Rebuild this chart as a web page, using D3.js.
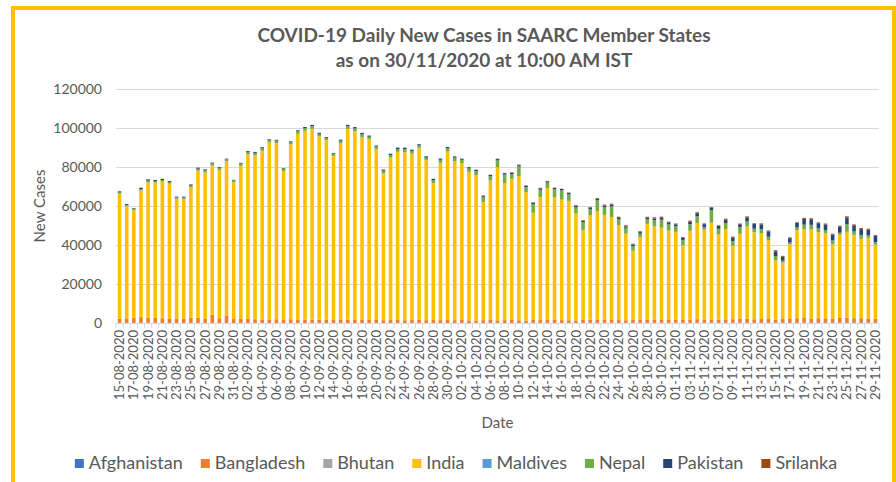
<!DOCTYPE html>
<html>
<head>
<meta charset="utf-8">
<script src="https://cdn.jsdelivr.net/npm/d3@7"></script>
<style>
  body { margin: 0; background: #fff; }
  svg { display: block; font-family: Lato, "Open Sans", sans-serif; }
</style>
</head>
<body>
<svg width="896" height="482"></svg>
<script>
var countries = ["Afghanistan", "Bangladesh", "Bhutan", "India", "Maldives", "Nepal", "Pakistan", "Srilanka"]
var colors = ["#4472C4", "#ED7D31", "#A5A5A5", "#FFC000", "#5B9BD5", "#70AD47", "#264478", "#9E480E"]

// one category per day, 15-08-2020 .. 29-11-2020
var dates = d3.timeDay.range(new Date(2020, 7, 15), new Date(2020, 10, 30)).map(d3.timeFormat("%d-%m-%Y"))
var yTicks = [0, 20000, 40000, 60000, 80000, 100000, 120000]

var afghanistan = [60, 40, 30, 80, 50, 70, 40, 30, 20, 35, 40, 60, 50, 30, 20, 40, 20,
  30, 20, 40, 25, 30, 20, 15, 35, 40, 20, 30, 25, 20, 40, 30, 25, 20, 30, 20, 40, 35, 25, 30, 20, 30, 40, 25, 30, 35, 20,
  40, 50, 30, 60, 40, 50, 70, 45, 60, 80, 50, 70, 90, 60, 80, 70, 100, 90, 70, 110, 80, 120, 100, 90, 110, 130, 100, 120, 140, 110, 150,
  130, 160, 150, 180, 140, 200, 170, 190, 160, 220, 180, 200, 240, 190, 210, 230, 260, 250, 270, 290, 240, 280, 300, 260, 310, 280, 320, 290, 300]
var bangladesh = [2200, 2000, 2700, 2900, 2600, 2700, 2400, 2300, 2000, 2300, 2500, 2600, 2100, 4200, 2400, 3600, 2000,
  2000, 2100, 1900, 1800, 1700, 1900, 1800, 1900, 1800, 1700, 1600, 1700, 1600, 1500, 1600, 1700, 1600, 1500, 1600, 1500, 1400, 1600, 1500, 1400, 1500, 1600, 1400, 1500, 1400, 1500,
  1400, 1500, 1300, 1200, 1400, 1500, 1300, 1400, 1500, 1300, 1200, 1500, 1400, 1600, 1500, 1400, 1300, 1200, 1500, 1600, 1700, 1600, 1500, 1400, 1300, 1600, 1700, 1500, 1600, 1700, 1400,
  1500, 1700, 1600, 1800, 1700, 1600, 1500, 1700, 1800, 1900, 2000, 1700, 1800, 1900, 1600, 1800, 2100, 2200, 2300, 2000, 2200, 2100, 1900, 2300, 2400, 2200, 2100, 2000, 1900]
var bhutan = [3, 2, 5, 0, 4, 6, 2, 1, 3, 0, 5, 8, 4, 2, 3, 1, 0,
  2, 4, 1, 3, 0, 5, 2, 6, 3, 1, 4, 2, 0, 3, 5, 1, 2, 4, 3, 0, 2, 1, 5, 3, 2, 4, 1, 3, 2, 0,
  3, 1, 4, 2, 5, 0, 2, 3, 1, 4, 2, 6, 3, 1, 2, 5, 0, 3, 4, 2, 1, 3, 2, 4, 1, 0, 2, 3, 5, 2, 1,
  2, 4, 3, 1, 5, 2, 0, 3, 4, 2, 1, 3, 5, 2, 4, 1, 3, 2, 0, 4, 3, 1, 2, 5, 3, 2, 4, 1, 3]
var india = [64000, 57900, 55100, 64900, 69500, 69100, 69900, 69000, 61600, 61200, 66900, 75300, 74900, 76400, 76000, 79300, 70200,
  78500, 84400, 84000, 86400, 90800, 90300, 76100, 89600, 95100, 96800, 97900, 93900, 92200, 84100, 90400, 97800, 96700, 93700, 92600, 87700, 75300, 83100, 86200, 86200, 85300, 88200, 82200, 70200, 80700, 86400,
  81500, 80200, 76100, 74500, 60600, 71500, 78500, 70100, 72300, 73900, 65900, 54900, 63100, 67500, 62800, 61700, 61200, 54900, 46100, 53400, 55600, 53700, 52700, 48600, 44400, 35300, 42200, 49200, 47800, 47000, 45800,
  45100, 38000, 45500, 49300, 46000, 49600, 43700, 46300, 37600, 43600, 47300, 44700, 43900, 40400, 30300, 28900, 38100, 45000, 45400, 45600, 44200, 43600, 38100, 42800, 44000, 42700, 40700, 41400, 37900]
var maldives = [150, 130, 120, 160, 170, 140, 180, 150, 130, 120, 110, 140, 130, 120, 110, 100, 90,
  100, 90, 80, 110, 70, 80, 60, 90, 70, 80, 60, 50, 70, 60, 80, 70, 50, 60, 40, 60, 50, 70, 40, 50, 60, 50, 40, 60, 50, 40,
  50, 40, 60, 50, 70, 60, 40, 50, 60, 40, 50, 30, 40, 50, 60, 40, 30, 50, 40, 60, 50, 30, 40, 50, 40, 30, 50, 40, 30, 40, 50,
  40, 30, 50, 40, 30, 50, 40, 30, 20, 40, 30, 50, 30, 40, 20, 30, 40, 30, 50, 40, 30, 20, 30, 40, 50, 30, 40, 30, 20]
var nepal = [500, 400, 450, 700, 650, 700, 800, 750, 600, 650, 900, 1000, 1100, 1050, 1000, 900, 800,
  1100, 1150, 1200, 1250, 1100, 1200, 950, 1050, 1300, 1350, 1400, 1300, 1050, 1100, 1350, 1400, 1450, 1500, 1250, 1150, 1300, 1400, 1450, 1500, 1350, 1200, 1100, 1400, 1500, 1600,
  1800, 1900, 1700, 2000, 2600, 2200, 3500, 4500, 2400, 5000, 2500, 4500, 3700, 2800, 4200, 4800, 3300, 3000, 4000, 3300, 5500, 4000, 5500, 3000, 3000, 2300, 1700, 2300, 3100, 4100, 3100,
  2900, 2700, 3400, 3400, 1200, 6500, 2900, 2900, 2400, 3400, 2600, 1700, 2200, 1700, 2200, 1000, 700, 1500, 2400, 2400, 1900, 1700, 2000, 900, 3800, 1700, 2000, 1200, 1400]
var pakistan = [600, 500, 400, 650, 700, 650, 600, 550, 450, 500, 600, 550, 500, 450, 400, 350, 300,
  400, 450, 500, 550, 500, 450, 400, 450, 500, 550, 600, 550, 450, 400, 550, 600, 650, 700, 600, 550, 600, 650, 700, 750, 650, 600, 700, 750, 650, 700,
  650, 600, 700, 750, 550, 600, 650, 700, 750, 600, 650, 700, 750, 650, 600, 700, 750, 800, 700, 650, 750, 800, 850, 750, 700, 900, 850, 800, 950, 1000, 1100,
  900, 1100, 1300, 1600, 1600, 1200, 1500, 1900, 1900, 1500, 2100, 2400, 2400, 2800, 2400, 2000, 2300, 2300, 3000, 2900, 2600, 2800, 3000, 3200, 3600, 3200, 3000, 3000, 3200]
var srilanka = [5, 10, 3, 8, 2, 6, 4, 10, 3, 5, 7, 2, 8, 4, 6, 3, 5,
  4, 6, 10, 3, 5, 8, 12, 6, 4, 9, 5, 7, 3, 10, 6, 4, 8, 5, 11, 7, 3, 6, 9, 4, 8, 5, 10, 6, 7, 4,
  10, 20, 50, 100, 150, 120, 200, 180, 250, 300, 220, 200, 250, 190, 180, 150, 200, 350, 300, 400, 350, 450, 500, 600, 550, 400, 450, 500, 550, 600, 400,
  450, 400, 500, 450, 400, 350, 300, 500, 400, 350, 450, 400, 500, 400, 600, 450, 400, 350, 500, 450, 400, 500, 450, 400, 550, 450, 500, 450, 400]

var series = [afghanistan, bangladesh, bhutan, india, maldives, nepal, pakistan, srilanka]

var data = dates.map(function (d, i) {
  var row = { date: d }
  countries.forEach(function (c, k) { row[c] = series[k][i] })
  return row
})

var svg = d3.select("svg")
var textColor = "#595959"
var gridColor = "#D9D9D9"

// chart border
svg.append("rect")
  .attr("x", 13).attr("y", 8)
  .attr("width", 881).attr("height", 520)
  .attr("fill", "none")
  .attr("stroke", "#FFC000")
  .attr("stroke-width", 4)

var plotLeft = 116, plotRight = 879, plotTop = 89, plotBottom = 323

var xScale = d3.scaleBand().domain(dates).range([plotLeft, plotRight]).paddingInner(0.5).paddingOuter(0.25)
var yScale = d3.scaleLinear().domain([0, 120000]).range([plotBottom, plotTop])
var fillScale = d3.scaleOrdinal().domain(countries).range(colors)

// gridlines
var grid = d3.axisLeft(yScale).tickValues(yTicks).tickSize(-(plotRight - plotLeft)).tickFormat("")
svg.append("g").attr("id", "gridG").attr("transform", "translate(" + plotLeft + ",0)").call(grid)
svg.select("#gridG").select(".domain").remove()
svg.select("#gridG").selectAll("line").attr("stroke", gridColor)

// y labels
var yAxis = d3.axisLeft(yScale).tickValues(yTicks).tickSize(0).tickPadding(14).tickFormat(d3.format("d"))
svg.append("g").attr("id", "yAxisG").attr("transform", "translate(" + plotLeft + ",0)").call(yAxis)
svg.select("#yAxisG").select(".domain").remove()
svg.select("#yAxisG").selectAll("text")
  .attr("fill", textColor).style("font-size", "14px").style("font-family", "Lato")

// stacked bars
var stackLayout = d3.stack().keys(countries)
svg.append("g").selectAll("g.bar")
  .data(stackLayout(data))
  .enter()
  .append("g")
  .attr("class", "bar")
  .style("fill", function (d) { return fillScale(d.key) })
  .each(function (d) {
    d3.select(this).selectAll("rect")
      .data(d)
      .enter()
      .append("rect")
      .attr("x", function (p) { return xScale(p.data.date) })
      .attr("y", function (p) { return yScale(p[1]) })
      .attr("height", function (p) { return yScale(p[0]) - yScale(p[1]) })
      .attr("width", xScale.bandwidth())
  })

// x axis with every second date
var xAxis = d3.axisBottom(xScale)
  .tickValues(dates.filter(function (d, i) { return i % 2 === 0 }))
  .tickSize(0)
svg.append("g").attr("id", "xAxisG").attr("transform", "translate(0," + plotBottom + ")").call(xAxis)
svg.select("#xAxisG").select(".domain").attr("stroke", gridColor).attr("d", "M" + plotLeft + ",0.5H" + plotRight)
svg.select("#xAxisG").selectAll("text")
  .attr("fill", textColor)
  .style("font-size", "13px").style("font-family", "Lato")
  .attr("transform", "rotate(-90)")
  .attr("text-anchor", "end")
  .attr("x", -7).attr("y", 0).attr("dy", "0.35em")

// small tick marks between categories
var step = xScale.step()
svg.append("g").selectAll("line")
  .data(dates.concat(["end"]))
  .enter()
  .append("line")
  .attr("x1", function (d, i) { return plotLeft + i * step })
  .attr("x2", function (d, i) { return plotLeft + i * step })
  .attr("y1", plotBottom)
  .attr("y2", plotBottom + 5)
  .attr("stroke", gridColor)

// titles
svg.append("text").attr("x", 484).attr("y", 42)
  .attr("text-anchor", "middle").attr("fill", textColor)
  .style("font-size", "19px").style("font-weight", "bold")
  .text("COVID-19 Daily New Cases in SAARC Member States")
svg.append("text").attr("x", 484).attr("y", 67)
  .attr("text-anchor", "middle").attr("fill", textColor)
  .style("font-size", "19px").style("font-weight", "bold")
  .text("as on 30/11/2020 at 10:00 AM IST")

svg.append("text").attr("x", (plotLeft + plotRight) / 2).attr("y", 428)
  .attr("text-anchor", "middle").attr("fill", textColor)
  .style("font-size", "15px")
  .text("Date")
svg.append("text")
  .attr("transform", "translate(45," + ((plotTop + plotBottom) / 2) + ") rotate(-90)")
  .attr("text-anchor", "middle").attr("fill", textColor)
  .style("font-size", "15px")
  .text("New Cases")

// legend
var legend = svg.append("g").attr("id", "legendG")
var lx = 0
countries.forEach(function (c) {
  var item = legend.append("g").attr("transform", "translate(" + lx + ",0)")
  item.append("rect").attr("x", 0).attr("y", 459).attr("width", 9).attr("height", 9).attr("fill", fillScale(c))
  var t = item.append("text").attr("x", 14).attr("y", 469).attr("fill", textColor)
    .style("font-size", "18px").text(c)
  lx += 14 + t.node().getComputedTextLength() + 18
})
var legendWidth = lx - 18
legend.attr("transform", "translate(" + (456 - legendWidth / 2) + ",0)")
</script>
</body>
</html>
